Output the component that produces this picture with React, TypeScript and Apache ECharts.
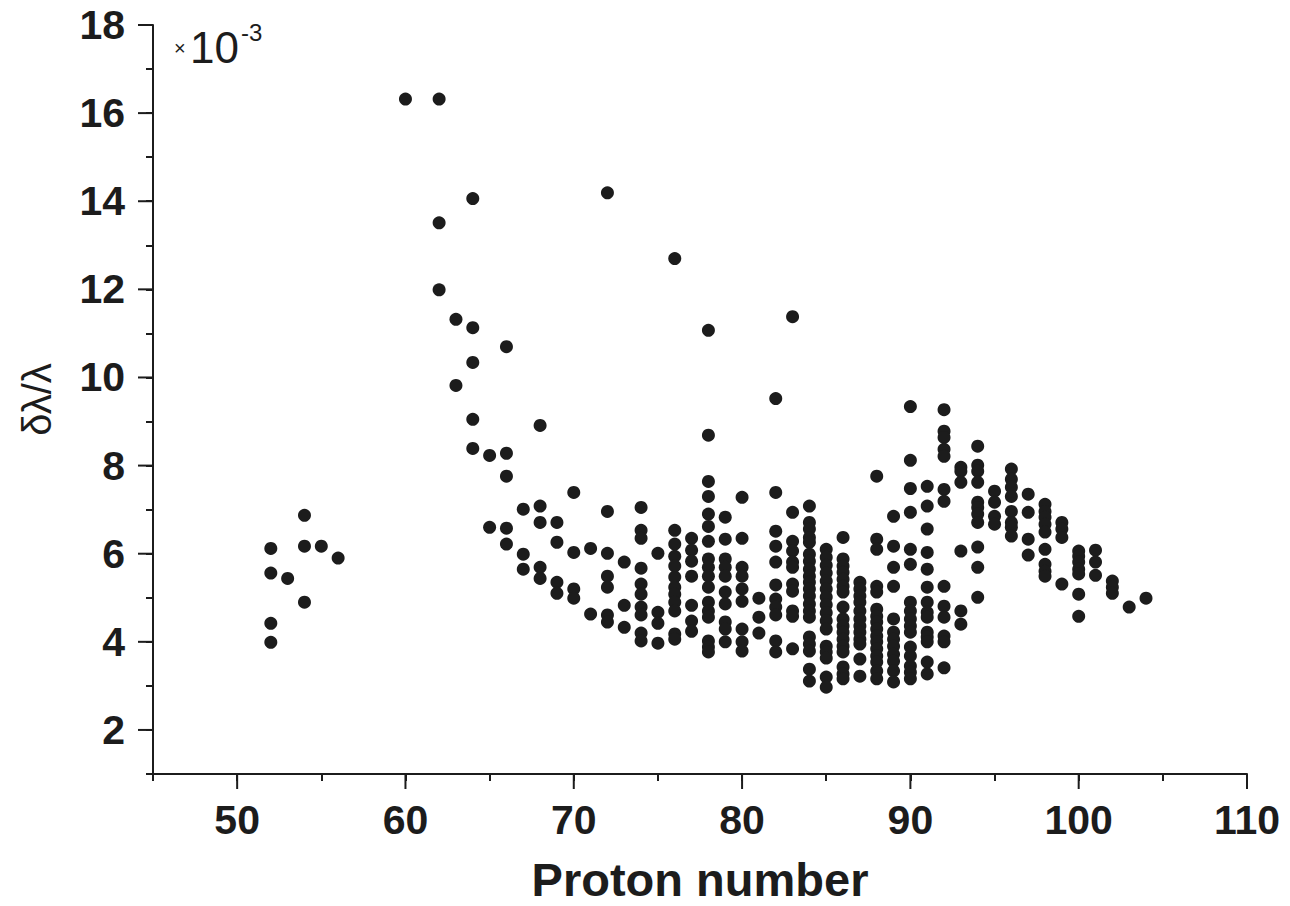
import React, { useEffect, useRef } from "react";
import * as echarts from "echarts";

// Proton numbers (Z) and the δλ/λ values (×10^-3) read for each Z
const protonNumbers = [
  52, 53, 54, 55, 56, 60, 62, 63, 64, 65, 66, 67, 68, 69, 70, 71, 72, 73, 74, 75,
  76, 77, 78, 79, 80, 81, 82, 83, 84, 85, 86, 87, 88, 89, 90, 91, 92, 93, 94, 95,
  96, 97, 98, 99, 100, 101, 102, 103, 104,
];

const ratioByZ: number[][] = [
  [6.12, 5.56, 4.42, 3.99], // 52
  [5.44], // 53
  [6.87, 6.17, 4.9], // 54
  [6.17], // 55
  [5.9], // 56
  [16.32], // 60
  [16.32, 13.51, 11.99], // 62
  [11.32, 9.82], // 63
  [14.06, 11.13, 10.34, 9.05, 8.39], // 64
  [8.23, 6.6], // 65
  [10.7, 8.28, 7.76, 6.58, 6.22], // 66
  [7.01, 5.99, 5.65], // 67
  [8.91, 7.08, 6.71, 5.69, 5.44], // 68
  [6.71, 6.26, 5.35, 5.1], // 69
  [7.39, 6.03, 5.2, 4.99], // 70
  [6.12, 4.63], // 71
  [14.19, 6.96, 6.01, 5.49, 5.24, 4.61, 4.45], // 72
  [5.81, 4.83, 4.33], // 73
  [7.05, 6.53, 6.35, 5.67, 5.31, 5.08, 4.79, 4.61, 4.2, 4.02], // 74
  [6.01, 4.67, 4.42, 3.97], // 75
  [12.7, 6.53, 6.22, 5.94, 5.72, 5.47, 5.24, 5.08, 4.9, 4.7, 4.18, 4.06], // 76
  [6.35, 6.08, 5.83, 5.49, 4.83, 4.47, 4.24], // 77
  [11.07, 8.69, 7.64, 7.3, 6.9, 6.62, 6.28, 5.88, 5.69, 5.49, 5.24, 4.9, 4.7, 4.56, 4.02, 3.88, 3.77], // 78
  [6.83, 6.33, 5.88, 5.69, 5.49, 5.13, 4.86, 4.45, 4.29, 4.0], // 79
  [7.28, 6.35, 5.69, 5.49, 5.2, 4.92, 4.29, 4.0, 3.79], // 80
  [4.99, 4.56, 4.2], // 81
  [9.52, 7.39, 6.51, 6.17, 5.81, 5.29, 4.97, 4.79, 4.61, 4.02, 3.77], // 82
  [11.38, 6.94, 6.28, 6.06, 5.81, 5.69, 5.31, 5.15, 4.7, 4.58, 3.84], // 83
  [7.08, 6.71, 6.56, 6.37, 6.26, 5.99, 5.83, 5.65, 5.49, 5.35, 5.2, 5.04, 4.86, 4.7, 4.56, 4.11, 3.95, 3.79, 3.38, 3.11], // 84
  [6.1, 5.92, 5.74, 5.56, 5.38, 5.2, 5.02, 4.84, 4.66, 4.48, 4.29, 3.9, 3.77, 3.63, 3.2, 2.97], // 85
  [6.37, 5.88, 5.72, 5.58, 5.42, 5.26, 5.13, 4.79, 4.52, 4.36, 4.22, 4.06, 3.9, 3.77, 3.43, 3.27, 3.16], // 86
  [5.35, 5.2, 5.04, 4.9, 4.7, 4.52, 4.36, 4.22, 4.06, 3.95, 3.61, 3.22], // 87
  [7.76, 6.33, 6.1, 5.26, 5.13, 4.74, 4.58, 4.45, 4.29, 4.13, 4.0, 3.84, 3.68, 3.54, 3.34, 3.16], // 88
  [6.85, 6.17, 5.69, 5.26, 4.52, 4.22, 4.06, 3.9, 3.72, 3.56, 3.34, 3.09], // 89
  [9.34, 8.12, 7.48, 6.94, 6.1, 5.76, 4.9, 4.7, 4.52, 4.36, 4.22, 3.88, 3.68, 3.45, 3.31, 3.16], // 90
  [7.53, 7.08, 6.56, 6.03, 5.65, 5.24, 4.9, 4.67, 4.56, 4.22, 4.11, 4.0, 3.54, 3.27], // 91
  [9.27, 8.78, 8.64, 8.37, 8.21, 7.46, 7.19, 5.26, 4.81, 4.56, 4.13, 4.0, 3.41], // 92
  [7.96, 7.87, 7.62, 6.06, 4.7, 4.4], // 93
  [8.44, 8.01, 7.87, 7.62, 7.17, 7.05, 6.9, 6.71, 6.15, 5.69, 5.01], // 94
  [7.42, 7.17, 6.85, 6.67], // 95
  [7.92, 7.69, 7.51, 7.3, 6.96, 6.71, 6.6, 6.4], // 96
  [7.35, 6.94, 6.33, 5.97], // 97
  [7.12, 6.96, 6.83, 6.67, 6.49, 6.1, 5.76, 5.6, 5.49], // 98
  [6.71, 6.56, 6.37, 5.31], // 99
  [6.06, 5.94, 5.81, 5.65, 5.54, 5.08, 4.58], // 100
  [6.08, 5.81, 5.51], // 101
  [5.38, 5.24, 5.1], // 102
  [4.79], // 103
  [4.99], // 104
];

const xMajorTicks = [50, 60, 70, 80, 90, 100, 110];
const yMajorTicks = [2, 4, 6, 8, 10, 12, 14, 16, 18];

const X_MIN = 45;
const X_MAX = 110;
const Y_MIN = 1;
const Y_MAX = 18;

const FONT = "'Liberation Sans', Arial, Helvetica, sans-serif";
const INK = "#1c1c1c";

export default function App() {
  const ref = useRef<HTMLDivElement>(null);

  useEffect(() => {
    if (!ref.current) return;
    const chart = echarts.init(ref.current, undefined, { renderer: "svg" });

    const points: number[][] = [];
    protonNumbers.forEach((z, i) => {
      ratioByZ[i].forEach((v) => points.push([z, v]));
    });

    const option = {
      animation: false,
      backgroundColor: "#ffffff",
      grid: {
        left: 153,
        right: 43,
        top: 25,
        bottom: 132,
        containLabel: false,
        outerBoundsMode: "none",
      },
      xAxis: {
        type: "value",
        min: X_MIN,
        max: X_MAX,
        interval: 5,
        name: "Proton number",
        nameLocation: "middle",
        nameGap: 82,
        nameTextStyle: { fontFamily: FONT, fontSize: 47, fontWeight: "bold", color: INK },
        axisLine: { show: true, onZero: false, lineStyle: { color: INK, width: 2 } },
        axisTick: { show: true, inside: false, length: 7, lineStyle: { color: INK, width: 2 } },
        axisLabel: {
          margin: 25,
          fontFamily: FONT,
          fontSize: 41,
          fontWeight: "bold",
          color: INK,
          formatter: (v: number) => (v % 10 === 0 ? String(v) : ""),
        },
        splitLine: { show: false },
      },
      yAxis: {
        type: "value",
        min: Y_MIN,
        max: Y_MAX,
        interval: 1,
        name: "δλ/λ",
        nameLocation: "middle",
        nameRotate: 90,
        nameGap: 96,
        nameTextStyle: { fontFamily: FONT, fontSize: 40, fontWeight: "normal", color: INK },
        axisLine: { show: true, onZero: false, lineStyle: { color: INK, width: 2 } },
        axisTick: { show: true, inside: false, length: 7, lineStyle: { color: INK, width: 2 } },
        axisLabel: {
          margin: 28,
          fontFamily: FONT,
          fontSize: 41,
          fontWeight: "bold",
          color: INK,
          formatter: (v: number) => (v % 2 === 0 ? String(v) : ""),
        },
        splitLine: { show: false },
      },
      graphic: [
        {
          type: "text",
          left: 174,
          top: 38,
          style: { text: "×", fontFamily: FONT, fontSize: 20, fill: INK },
        },
        {
          type: "text",
          left: 190,
          top: 25,
          style: { text: "10", fontFamily: FONT, fontSize: 44, fill: INK },
        },
        {
          type: "text",
          left: 241,
          top: 20,
          style: { text: "-3", fontFamily: FONT, fontSize: 24, fill: INK },
        },
      ],
      series: [
        {
          type: "scatter",
          data: points,
          symbol: "circle",
          symbolSize: 13,
          itemStyle: { color: INK, opacity: 1 },
          silent: true,
        },
        {
          type: "custom",
          clip: false,
          silent: true,
          data: xMajorTicks.map((v) => [v, Y_MIN]),
          renderItem: (_p: any, api: any) => {
            const c = api.coord([api.value(0), Y_MIN]);
            return {
              type: "line",
              shape: { x1: c[0], y1: c[1], x2: c[0], y2: c[1] + 15 },
              style: { stroke: INK, lineWidth: 2 },
            };
          },
        },
        {
          type: "custom",
          clip: false,
          silent: true,
          data: yMajorTicks.map((v) => [X_MIN, v]),
          renderItem: (_p: any, api: any) => {
            const c = api.coord([X_MIN, api.value(1)]);
            return {
              type: "line",
              shape: { x1: c[0], y1: c[1], x2: c[0] - 15, y2: c[1] },
              style: { stroke: INK, lineWidth: 2 },
            };
          },
        },
      ],
    };

    chart.setOption(option as any);
    return () => chart.dispose();
  }, []);

  return (
    <div
      ref={ref}
      style={{ position: "fixed", left: 0, top: 0, width: 1290, height: 906, background: "#fff" }}
    />
  );
}
